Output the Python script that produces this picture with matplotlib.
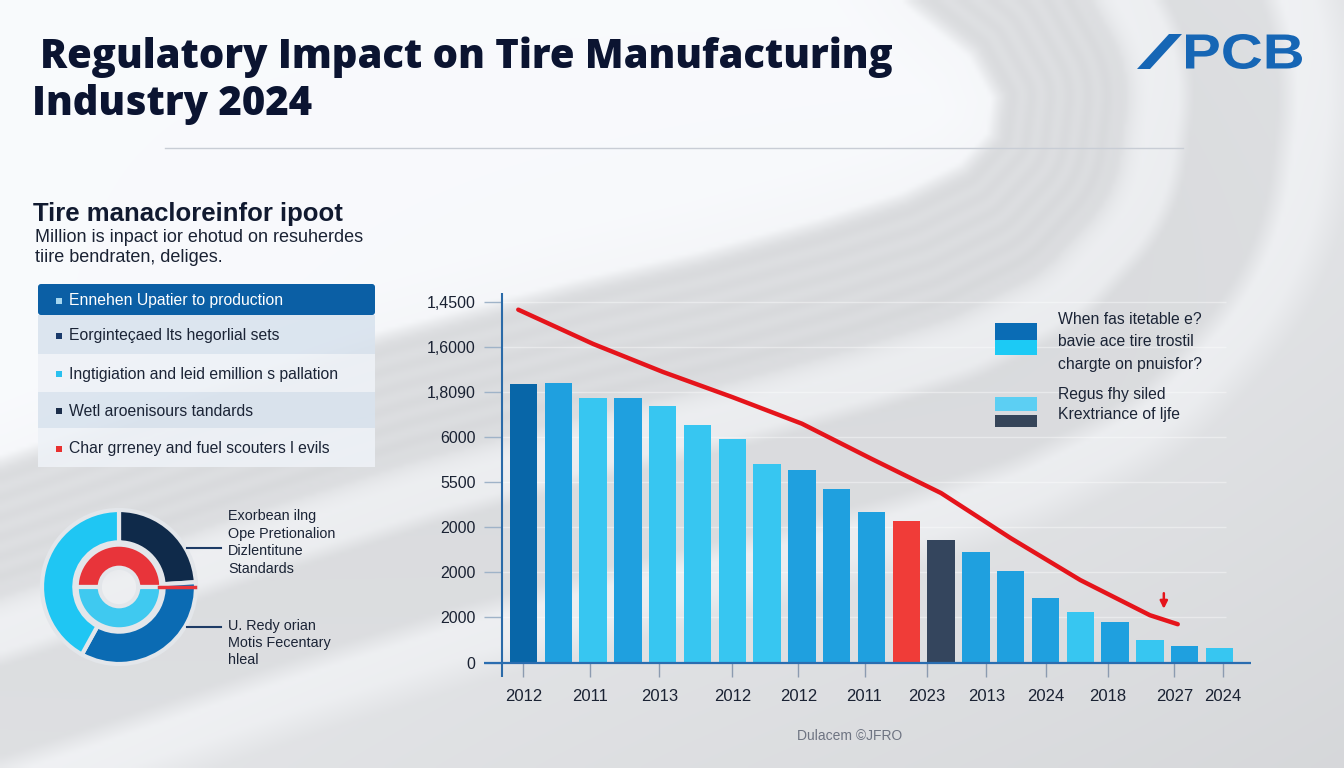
import numpy as np
import matplotlib.pyplot as plt
from matplotlib.patches import Rectangle, FancyBboxPatch, PathPatch, Polygon
from matplotlib.path import Path
from matplotlib.textpath import TextPath
from matplotlib.font_manager import FontProperties
from matplotlib.transforms import Affine2D

plt.rcParams['font.family'] = ['Liberation Sans', 'DejaVu Sans']

# ---------------- donnees ----------------
DARK = '#0866a8'
MED = '#1fa0df'
LIGHT = '#37c6f1'
RED = '#f03c38'
SLATE = '#34455d'

bar_values = [6190, 6200, 5860, 5860, 5700, 5260, 4950, 4400, 4280, 3840, 3340,
              3130, 2720, 2460, 2040, 1440, 1130, 890, 490, 370, 320]
bar_colors = [DARK, MED, LIGHT, MED, LIGHT, LIGHT, LIGHT, LIGHT, MED, MED, MED,
              RED, SLATE, MED, MED, MED, LIGHT, MED, LIGHT, MED, LIGHT]

trend_pos = [-0.15, 2, 4, 6, 8, 10, 12, 14, 16, 18, 18.8]
trend_values = [7830, 7070, 6450, 5890, 5300, 4520, 3760, 2760, 1830, 1050, 850]

y_ticks = [0, 1000, 2000, 3000, 4000, 5000, 6000, 7000, 8000]
y_tick_labels = ['0', '2000', '2000', '2000', '5500', '6000', '1,8090', '1,6000', '1,4500']

x_tick_pos = [0, 1.9, 3.9, 6, 7.9, 9.8, 11.6, 13.3, 15, 16.8, 18.7, 20.1]
x_tick_labels = ['2012', '2011', '2013', '2012', '2012', '2011', '2023', '2013',
                 '2024', '2018', '2027', '2024']

title_lines = ['Regulatory Impact on Tire Manufacturing', 'Industry 2024']
panel_title = 'Tire manacloreinfor ipoot'
panel_sub = ['Million is inpact ior ehotud on resuherdes', 'tiire bendraten, deliges.']

list_items = ['Ennehen Upatier to production',
              'Eorginteçaed lts hegorlial sets',
              'Ingtigiation and leid emillion s pallation',
              'Wetl aroenisours tandards',
              'Char grreney and fuel scouters l evils']
list_bullets = ['#a6d7ef', '#1a3a6b', '#29c0ef', '#1c2e4a', '#e8302f']
list_bg = ['#0b5fa5', '#d9e3ee', '#eef2f7', '#d9e3ee', '#eef2f7']

donut_outer = [24, 34, 42]
donut_outer_colors = ['#0f2a4a', '#0b6bb3', '#1fc6f3']
donut_inner = [50, 50]
donut_inner_colors = ['#e8343a', '#3fc9f0']
donut_label_a = ['Exorbean ilng', 'Ope Pretionalion', 'Dizlentitune', 'Standards']
donut_label_b = ['U. Redy orian', 'Motis Fecentary', 'hleal']

legend_a = ['When fas itetable e?', 'bavie ace tire trostil', 'chargte on pnuisfor?']
legend_b = ['Regus fhy siled', 'Krextriance of ljfe']

logo_text = 'PCB'
footer = 'Dulacem ©JFRO'

# ---------------- figure ----------------
W, H = 1344, 768
fig = plt.figure(figsize=(13.44, 7.68), dpi=100)

# fond : zone blanche en haut a gauche, bandes grises courbes autour
ax_bg = fig.add_axes([0, 0, 1, 1], zorder=0)
edge = np.array([(860, -60), (913, 0), (975, 50), (1000, 95), (995, 135), (965, 168),
                 (905, 198), (820, 225), (700, 258), (574, 287), (383, 337),
                 (191, 398), (0, 463), (-250, 545)], dtype=float)
gx, gy = np.meshgrid(np.linspace(0, W, 336), np.linspace(0, H, 192))
pts = np.column_stack([gx.ravel(), gy.ravel()])
A, B = edge[:-1], edge[1:]
AB = B - A
t = ((pts[:, None, :] - A[None]) * AB[None]).sum(-1) / (AB ** 2).sum(-1)[None]
t = np.clip(t, 0, 1)
proj = A[None] + t[..., None] * AB[None]
dist = np.sqrt(((pts[:, None, :] - proj) ** 2).sum(-1)).min(1)
poly = Path(np.vstack([edge, [(-250, -60)]]))
inside = poly.contains_points(pts)
s = np.where(inside, -dist, dist).reshape(gx.shape)
shade = np.interp(s, [-60, -8, 6, 120, 140, 150, 180, 195, 280, 300, 330, 360, 700],
                  [0.985, 0.975, 0.875, 0.87, 0.93, 0.945, 0.94, 0.875, 0.88, 0.95, 0.945, 0.9, 0.88])
band = (s > 0) & (s < 130)
shade = shade + 0.008 * np.sin(s / 3.0) * band
shade = shade - 0.03 * (gx / W) * (gy / H)
rgb = np.clip(np.dstack([shade - 0.01, shade - 0.004, shade + 0.006]), 0, 1)
ax_bg.imshow(rgb, extent=(0, W, H, 0), aspect='auto', interpolation='bilinear')
ax_bg.set_xlim(0, W)
ax_bg.set_ylim(H, 0)
ax_bg.axis('off')

# graphique principal
ax = fig.add_axes([484 / W, (H - 677.4) / H, (1251 - 484) / W, (677.4 - 293) / H], zorder=1)
ax.set_facecolor('none')
ax.set_xlim(-1.135, 20.905)
ax.set_ylim(-330, 8200)
for sp in ax.spines.values():
    sp.set_visible(False)

ax.hlines(y_ticks[1:], -0.618, 20.2, color='white', alpha=0.4, lw=1, zorder=0)
ax.hlines(y_ticks, -1.135, -0.618, color='#9fb3c8', lw=1, zorder=1)
ax.bar(range(len(bar_values)), bar_values, width=0.79, color=bar_colors, zorder=2)
ax.axvline(-0.618, color='#2a6aa8', lw=1.5, zorder=3)
ax.axhline(0, color='#2a6db0', lw=1.6, zorder=3)
ax.plot(trend_pos, trend_values, color='#e5141b', lw=3.2, solid_capstyle='round', zorder=4)
ax.annotate('', xy=(18.4, 1130), xytext=(18.4, 1600),
            arrowprops=dict(arrowstyle='-|>', color='#e5141b', lw=1.8, mutation_scale=11))

ax.set_yticks(y_ticks, y_tick_labels)
ax.set_xticks(x_tick_pos, x_tick_labels)
ax.tick_params(axis='y', length=0, pad=6, labelsize=11.5, labelcolor='#1a2233')
ax.tick_params(axis='x', direction='in', length=10, width=1, color='#8c9bb0',
               pad=8, labelsize=12, labelcolor='#1a2233')

# anneau
cx, cy, R = 119, 587, 77
sz = 2.2 * R
ax_d = fig.add_axes([(cx - sz / 2) / W, (H - cy - sz / 2) / H, sz / W, sz / H], zorder=1)
gap = '#e3e6ea'
ax_d.pie(donut_outer, colors=donut_outer_colors, radius=1, startangle=90, counterclock=False,
         wedgeprops=dict(width=0.42, edgecolor=gap, linewidth=3))
ax_d.pie(donut_inner, colors=donut_inner_colors, radius=0.55, startangle=0, counterclock=True,
         wedgeprops=dict(width=0.3, edgecolor=gap, linewidth=3))
ax_d.plot([0.52, 0.99], [0, 0], color='#e8343a', lw=2.5)
ax_d.set_xlim(-1.1, 1.1)
ax_d.set_ylim(-1.1, 1.1)
ax_d.axis('off')

# calque texte / decor en pixels
ax_o = fig.add_axes([0, 0, 1, 1], zorder=2)
ax_o.set_xlim(0, W)
ax_o.set_ylim(H, 0)
ax_o.axis('off')

ax_o.text(40, 68, title_lines[0], fontsize=28.8, fontweight='heavy', family='Open Sans',
          color='#0b1431', va='baseline')
ax_o.text(32, 115, title_lines[1], fontsize=28.8, fontweight='heavy', family='Open Sans',
          color='#0b1431', va='baseline')

# logo : barre oblique + lettres elargies
logo_blue = '#1666b5'
ax_o.add_patch(Polygon([(1137, 69), (1150, 69), (1182, 34), (1169, 34)], closed=True,
                       fc=logo_blue, ec='none'))
prop = FontProperties(family='Liberation Sans', weight='bold')
tp = TextPath((0, 0), logo_text, size=40, prop=prop)
bb = tp.get_extents()
tr = Affine2D().translate(-bb.x0, -bb.y0).scale(116 / bb.width, -35 / bb.height).translate(1186, 69)
ax_o.add_patch(PathPatch(tr.transform_path(tp), color=logo_blue, lw=0))

ax_o.plot([165, 1183], [148, 148], color='#c8cdd5', lw=1)

# panneau gauche
ax_o.text(33, 214, panel_title, fontsize=18.5, fontweight='bold', color='#111a30', va='center')
for i, line in enumerate(panel_sub):
    ax_o.text(35, 237 + 21 * i, line, fontsize=13, color='#1a2233', va='center')

rows = [(284, 315), (315, 354), (354, 392), (392, 428), (428, 467)]
for i, (y0, y1) in enumerate(rows):
    if i == 0:
        ax_o.add_patch(FancyBboxPatch((38, y0), 337, y1 - y0, boxstyle='round,pad=0,rounding_size=3',
                                      fc=list_bg[i], ec='none'))
    else:
        ax_o.add_patch(Rectangle((38, y0), 337, y1 - y0, fc=list_bg[i], ec='none', alpha=0.9))
    yc = (y0 + y1) / 2 + 1
    ax_o.add_patch(Rectangle((56, yc - 3), 6, 6, fc=list_bullets[i], ec='none'))
    ax_o.text(69, yc, list_items[i], fontsize=11.3, va='center',
              color='white' if i == 0 else '#1b2436')

# etiquettes de l'anneau
ax_o.plot([187, 221], [548, 548], color='#1d3b66', lw=1.5)
ax_o.plot([187, 221], [627, 627], color='#1d3b66', lw=1.5)
for i, line in enumerate(donut_label_a):
    ax_o.text(228, 516 + 17.7 * i, line, fontsize=10.4, color='#1b2436', va='center')
for i, line in enumerate(donut_label_b):
    ax_o.text(228, 626 + 17 * i, line, fontsize=10.4, color='#1b2436', va='center')

# legende droite
ax_o.add_patch(Rectangle((995, 323), 42, 17, fc='#0a6cb5', ec='none'))
ax_o.add_patch(Rectangle((995, 340), 42, 15, fc='#1ccaf5', ec='none'))
ax_o.add_patch(Rectangle((995, 397), 42, 14, fc='#5ccff3', ec='none'))
ax_o.add_patch(Rectangle((995, 415), 42, 12, fc='#364559', ec='none'))
for i, line in enumerate(legend_a):
    ax_o.text(1058, 319 + 23 * i, line, fontsize=11.3, color='#1b2436', va='center')
for i, line in enumerate(legend_b):
    ax_o.text(1058, 394 + 21 * i, line, fontsize=11.3, color='#1b2436', va='center')

ax_o.text(850, 736, footer, fontsize=10, color='#6e7482', ha='center', va='center')

fig.savefig('out.png', dpi=100)
